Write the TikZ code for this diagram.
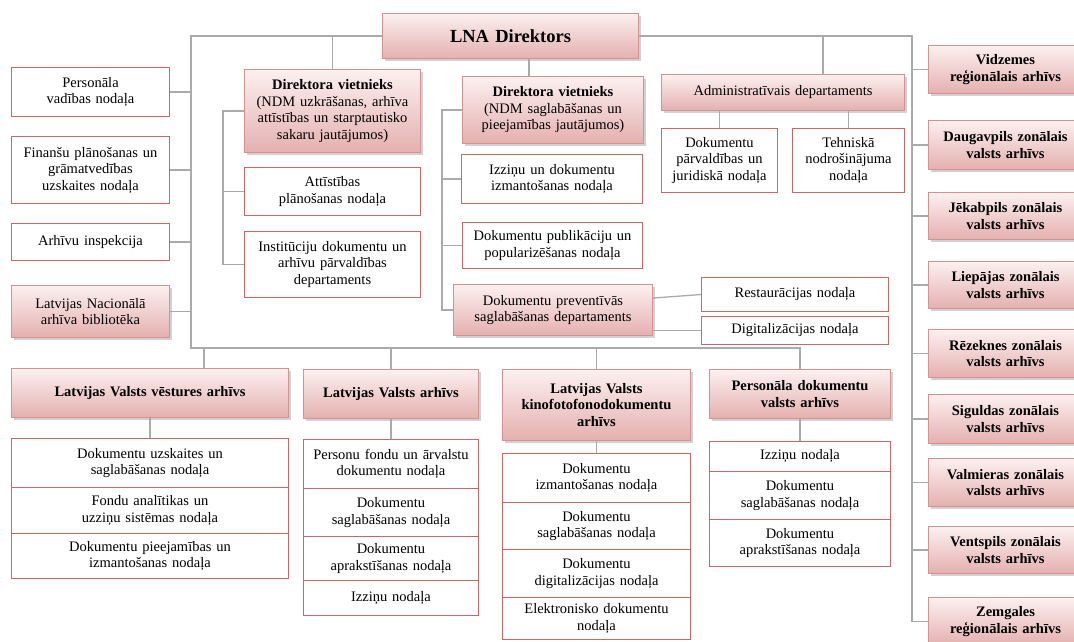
\documentclass[tikz,border=0pt]{standalone}
\usepackage{fontspec}
\setmainfont{Liberation Serif}
\usetikzlibrary{shadows,calc}
\definecolor{pinkT}{RGB}{252,240,240}
\definecolor{pinkB}{RGB}{228,176,175}
\definecolor{bordP}{RGB}{214,146,144}
\definecolor{bordW}{RGB}{208,100,100}
\definecolor{lineG}{RGB}{170,170,170}
\newcommand{\ob}[7]{\node[#1,minimum width=#5pt,minimum height=#6pt,text width=\dimexpr#5pt-6pt\relax] (#2) at (#3,#4) {#7};}
\tikzset{
  basebox/.style={anchor=north west, inner sep=2pt, align=center, font=\fontsize{14.5}{16.5}\selectfont, line width=1pt},
  whitebox/.style={basebox, draw=bordW, fill=white},
  pinkbox/.style={basebox, draw=bordP, top color=pinkT, bottom color=pinkB,
     drop shadow={shadow xshift=2pt, shadow yshift=-2.5pt, fill=black!40, opacity=0.45}},
  boldpink/.style={pinkbox, font=\fontsize{14.5}{16.5}\selectfont\bfseries},
  conn/.style={draw=lineG, line width=1.3pt},
}
\begin{document}
\begin{tikzpicture}[x=1pt,y=-1pt]
\useasboundingbox (0,0) rectangle (1074,642);
% top
\ob{boldpink,font=\fontsize{18.5}{20}\selectfont\bfseries}{LNA}{382}{13}{256}{45}{LNA Direktors}
% left column
\ob{whitebox}{PV}{11}{67}{158}{49}{Personāla\\vadības nodaļa}
\ob{whitebox}{FIN}{11}{136}{158}{67}{Finanšu plānošanas un\\grāmatvedības\\uzskaites nodaļa}
\ob{whitebox}{AI}{11}{223}{158}{37}{Arhīvu inspekcija}
\ob{pinkbox}{LNB}{11}{285}{158}{52}{Latvijas Nacionālā\\arhīva bibliotēka}
% deputy 1
\ob{pinkbox}{DV1}{244}{69}{176}{83}{\textbf{Direktora vietnieks}\\(NDM uzkrāšanas, arhīva\\attīstības un starptautisko\\sakaru jautājumos)}
\ob{whitebox}{AP}{244}{167}{176}{48}{Attīstības\\plānošanas nodaļa}
\ob{whitebox}{IDA}{244}{231}{176}{66}{Institūciju dokumentu un\\arhīvu pārvaldības\\departaments}
% deputy 2
\ob{pinkbox}{DV2}{462}{76}{181}{67}{\textbf{Direktora vietnieks}\\(NDM saglabāšanas un\\pieejamības jautājumos)}
\ob{whitebox}{IZD}{461}{154}{181}{49}{Izziņu un dokumentu\\izmantošanas nodaļa}
\ob{whitebox}{DPP}{462}{222}{180}{46}{Dokumentu publikāciju un\\popularizēšanas nodaļa}
\ob{pinkbox}{DPS}{453}{284}{199}{51}{Dokumentu preventīvās\\saglabāšanas departaments}
\ob{whitebox}{RES}{701}{277}{187}{34}{Restaurācijas nodaļa}
\ob{whitebox}{DIG}{701}{316}{187}{28}{Digitalizācijas nodaļa}
% administrative
\ob{pinkbox}{ADM}{661}{74}{243}{36}{Administratīvais departaments}
\ob{whitebox}{DPJ}{661}{128}{116}{64}{Dokumentu\\pārvaldības un\\juridiskā nodaļa}
\ob{whitebox}{TN}{792}{128}{112}{64}{Tehniskā\\nodrošinājuma\\nodaļa}
% right column
\ob{boldpink}{R1}{928}{45}{154}{48}{Vidzemes\\reģionālais arhīvs}
\ob{boldpink}{R2}{928}{120}{154}{49}{Daugavpils zonālais\\valsts arhīvs}
\ob{boldpink}{R3}{928}{192}{154}{47}{Jēkabpils zonālais\\valsts arhīvs}
\ob{boldpink}{R4}{928}{261}{154}{47}{Liepājas zonālais\\valsts arhīvs}
\ob{boldpink}{R5}{928}{329}{154}{48}{Rēzeknes zonālais\\valsts arhīvs}
\ob{boldpink}{R6}{928}{394}{154}{49}{Siguldas zonālais\\valsts arhīvs}
\ob{boldpink}{R7}{928}{458}{154}{48}{Valmieras zonālais\\valsts arhīvs}
\ob{boldpink}{R8}{928}{526}{154}{47}{Ventspils zonālais\\valsts arhīvs}
\ob{boldpink}{R9}{928}{597}{154}{48}{Zemgales\\reģionālais arhīvs}
% bottom row
\ob{boldpink}{LVVA}{11}{368}{277}{49}{Latvijas Valsts vēstures arhīvs}
\ob{whitebox}{A1}{11}{438}{277}{49}{Dokumentu uzskaites un\\saglabāšanas nodaļa}
\ob{whitebox}{A2}{11}{487}{277}{46}{Fondu analītikas un\\uzziņu sistēmas nodaļa}
\ob{whitebox}{A3}{11}{533}{277}{45}{Dokumentu pieejamības un\\izmantošanas nodaļa}
\ob{boldpink}{LVA}{303}{369}{175}{49}{Latvijas Valsts arhīvs}
\ob{whitebox}{B1}{303}{439}{175}{49}{Personu fondu un ārvalstu\\dokumentu nodaļa}
\ob{whitebox}{B2}{303}{488}{175}{48}{Dokumentu\\saglabāšanas nodaļa}
\ob{whitebox}{B3}{303}{536}{175}{44}{Dokumentu\\aprakstīšanas nodaļa}
\ob{whitebox}{B4}{303}{580}{175}{35}{Izziņu nodaļa}
\ob{boldpink}{KFF}{502}{369}{188}{71}{Latvijas Valsts\\kinofotofonodokumentu\\arhīvs}
\ob{whitebox}{C1}{502}{453}{188}{49}{Dokumentu\\izmantošanas nodaļa}
\ob{whitebox}{C2}{502}{502}{188}{47}{Dokumentu\\saglabāšanas nodaļa}
\ob{whitebox}{C3}{502}{549}{188}{48}{Dokumentu\\digitalizācijas nodaļa}
\ob{whitebox}{C4}{502}{597}{188}{42}{Elektronisko dokumentu\\nodaļa}
\ob{boldpink}{PDV}{709}{369}{181}{49}{Personāla dokumentu\\valsts arhīvs}
\ob{whitebox}{D1}{709}{441}{181}{30}{Izziņu nodaļa}
\ob{whitebox}{D2}{709}{471}{181}{48}{Dokumentu\\saglabāšanas nodaļa}
\ob{whitebox}{D3}{709}{519}{181}{47}{Dokumentu\\aprakstīšanas nodaļa}
% bus coordinates
\coordinate (lb) at (191,348);
\coordinate (rb) at (912,0);
\coordinate (b1) at (223,0);
\coordinate (b2) at (442,0);
\coordinate (d1) at (204,348);
\coordinate (a1) at (823,0);
\coordinate (v2) at (529,0);
% connectors
\draw[conn] (LNA.west) -| (lb) -| (PDV.north);
\draw[conn] (LNA.east) -| (rb |- R9.west) -- (R9.west);
\foreach \n in {PV,FIN,AI,LNB} \draw[conn] (\n.east) -- (\n.east -| lb);
\foreach \n in {R1,R2,R3,R4,R5,R6,R7,R8} \draw[conn] (\n.west) -- (\n.west -| rb);
\draw[conn] (DV1.north) -- (DV1.north |- LNA.west);
\draw[conn] (a1 |- LNA.east) -- (a1 |- ADM.north);
\draw[conn] (v2 |- LNA.south) -- (v2 |- DV2.north);
\draw[conn] (DV1.west) -- (DV1.west -| b1) |- (IDA.west);
\draw[conn] (AP.west) -- (AP.west -| b1);
\draw[conn] (DV2.west) -- (DV2.west -| b2) |- (DPS.west);
\draw[conn] (IZD.west) -- (IZD.west -| b2);
\draw[conn] (DPP.west) -- (DPP.west -| b2);
\draw[conn] ($(DPS.north east)!0.27!(DPS.south east)$) -- (RES.west);
\draw[conn] (DIG.west -| DPS.east) -- (DIG.west);
\draw[conn] (DPJ.north) -- (DPJ.north |- ADM.south);
\draw[conn] (TN.north) -- (TN.north |- ADM.south);
\draw[conn] (d1) -- (d1 |- LVVA.north);
\draw[conn] (LVA.north |- lb) -- (LVA.north);
\draw[conn] (KFF.north |- lb) -- (KFF.north);
\draw[conn] (LVVA.south) -- (A1.north);
\draw[conn] (LVA.south) -- (B1.north);
\draw[conn] (KFF.south) -- (C1.north);
\draw[conn] (PDV.south) -- (D1.north);
\end{tikzpicture}
\end{document}
